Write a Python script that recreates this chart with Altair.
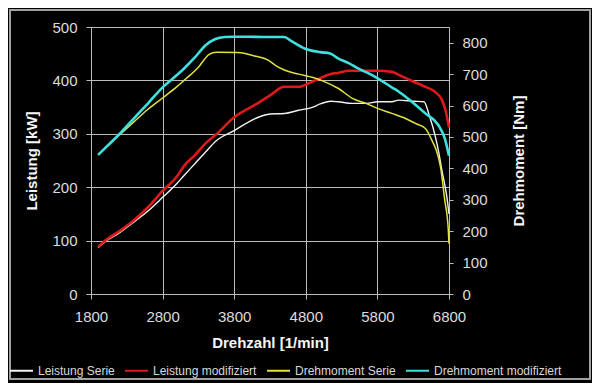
import altair as alt
import pandas as pd

# ---- data ----
names = ["Leistung Serie", "Leistung modifiziert", "Drehmoment Serie", "Drehmoment modifiziert"]
colors = ["#f2f2f2", "#e01818", "#e2e23c", "#3fe0e0"]

x_ticks = [1800, 2800, 3800, 4800, 5800, 6800]
kw_ticks = [0, 100, 200, 300, 400, 500]
nm_ticks = [0, 100, 200, 300, 400, 500, 600, 700, 800]

rpm_ls = [1900, 2000, 2200, 2400, 2600, 2800, 3000, 3100, 3250, 3400, 3550, 3800, 4100, 4300,
          4500, 4700, 4900, 5000, 5150, 5250, 5450, 5650, 5800, 6000, 6100, 6300, 6450, 6530,
          6600, 6660, 6700, 6770, 6800]
kw_ls = [87, 98, 115, 135, 156, 181, 207, 222, 244, 266, 287, 306, 329, 337,
         338, 344, 350, 356, 361, 360, 357, 357, 360, 360, 363, 361, 360, 332,
         300, 263, 232, 182, 150]

rpm_lm = [1900, 2000, 2200, 2400, 2600, 2800, 3000, 3100, 3250, 3400, 3550, 3800, 4100, 4300,
          4500, 4700, 4850, 5000, 5150, 5250, 5400, 5600, 5800, 6000, 6150, 6300, 6450, 6600,
          6700, 6750, 6800]
kw_lm = [88, 100, 118, 138, 163, 193, 220, 240, 260, 282, 299, 331, 355, 372,
         388, 388, 395, 404, 412, 414, 418, 418, 418, 416, 407, 398, 389, 379,
         364, 345, 312]

rpm_ds = [1900, 2000, 2100, 2250, 2400, 2600, 2800, 3000, 3100, 3300, 3450, 3550, 3850, 4100,
          4280, 4370, 4500, 4700, 4900, 5050, 5250, 5450, 5650, 5800, 6000, 6200, 6330, 6470,
          6560, 6650, 6680, 6740, 6790, 6800]
nm_ds = [443, 465, 487, 517, 548, 589, 624, 660, 680, 722, 763, 770, 769, 757,
         744, 729, 713, 700, 689, 677, 655, 623, 606, 591, 575, 558, 543, 527,
         490, 437, 406, 300, 205, 160]

rpm_dm = [1900, 2000, 2100, 2230, 2400, 2600, 2800, 3000, 3100, 3250, 3400, 3530, 3670, 3800,
          4000, 4200, 4500, 4600, 4790, 5000, 5140, 5250, 5400, 5530, 5700, 5810, 6000, 6100,
          6280, 6470, 6650, 6740, 6800]
nm_dm = [443, 465, 487, 517, 559, 608, 658, 697, 718, 753, 792, 811, 818, 819,
         819, 818, 818, 805, 781, 770, 766, 750, 735, 718, 700, 686, 658, 644,
         612, 575, 538, 496, 440]


def frame(rpm, vals, name):
    return pd.DataFrame({"rpm": rpm, "val": vals, "Serie": name})


FONT = "Liberation Sans"
W, H = 358, 267

x_enc = alt.X(
    "rpm:Q",
    scale=alt.Scale(domain=[1800, 6800], nice=False, zero=False),
    axis=alt.Axis(values=x_ticks, format="d", labelFlush=False, title="Drehzahl [1/min]",
                  tickSize=5, labelPadding=10, titleY=41, grid=True),
)
color_enc = alt.Color(
    "Serie:N",
    scale=alt.Scale(domain=names, range=colors),
    legend=alt.Legend(
        title=None, orient="none", direction="horizontal", legendX=-82, legendY=331,
        symbolType="stroke", symbolSize=529, symbolStrokeWidth=2, labelFontSize=12,
        labelColor="#d8d8d8", labelFont=FONT, columnPadding=6, labelOffset=4, padding=0,
    ),
)
y_left = alt.Y(
    "val:Q",
    scale=alt.Scale(domain=[0, 500], nice=False),
    axis=alt.Axis(values=kw_ticks, format="d", labelFlush=False, title="Leistung [kW]",
                  tickSize=5, labelPadding=9, titleAngle=270, titleX=-60, titleY=H / 2,
                  titleBaseline="middle", titleAlign="center", grid=True),
)
y_right = alt.Y(
    "val:Q",
    scale=alt.Scale(domain=[0, 850], nice=False),
    axis=alt.Axis(values=nm_ticks, format="d", labelFlush=False, orient="right",
                  title="Drehmoment [Nm]", tickSize=4, labelPadding=9, titleAngle=270,
                  titleX=69, titleY=H / 2, titleBaseline="middle", titleAlign="center",
                  grid=False),
)


def line(df, y, width):
    return alt.Chart(df).mark_line(strokeWidth=width, interpolate="monotone").encode(
        x=x_enc, y=y, color=color_enc
    )


left = alt.layer(
    line(frame(rpm_ls, kw_ls, names[0]), y_left, 1.4),
    line(frame(rpm_lm, kw_lm, names[1]), y_left, 2.6),
)
right = alt.layer(
    line(frame(rpm_ds, nm_ds, names[2]), y_right, 1.5),
    line(frame(rpm_dm, nm_dm, names[3]), y_right, 2.6),
)

border = alt.Chart(pd.DataFrame({"a": [0]})).mark_rect(
    filled=False, stroke="#a0a0a0", strokeWidth=2
).encode(
    x=alt.value(-81), x2=alt.value(499), y=alt.value(-17), y2=alt.value(352)
)

chart = (
    alt.layer(left, right, border)
    .resolve_scale(y="independent")
    .properties(
        width=W, height=H,
        autosize=alt.AutoSizeParams(type="none"),
        padding={"left": 83, "top": 19, "right": 143, "bottom": 89},
        background="#000000",
    )
    .configure_view(strokeWidth=0)
    .configure_axis(
        gridColor="#bcbcbc", gridWidth=1, domainColor="#bcbcbc", tickColor="#bcbcbc",
        labelColor="#dcdcdc", labelFont=FONT, labelFontSize=15,
        titleColor="#f5f5f5", titleFont=FONT, titleFontSize=15, titleFontWeight="bold",
    )
)

chart.save("out.html", embed_options={"renderer": "svg", "actions": False})
